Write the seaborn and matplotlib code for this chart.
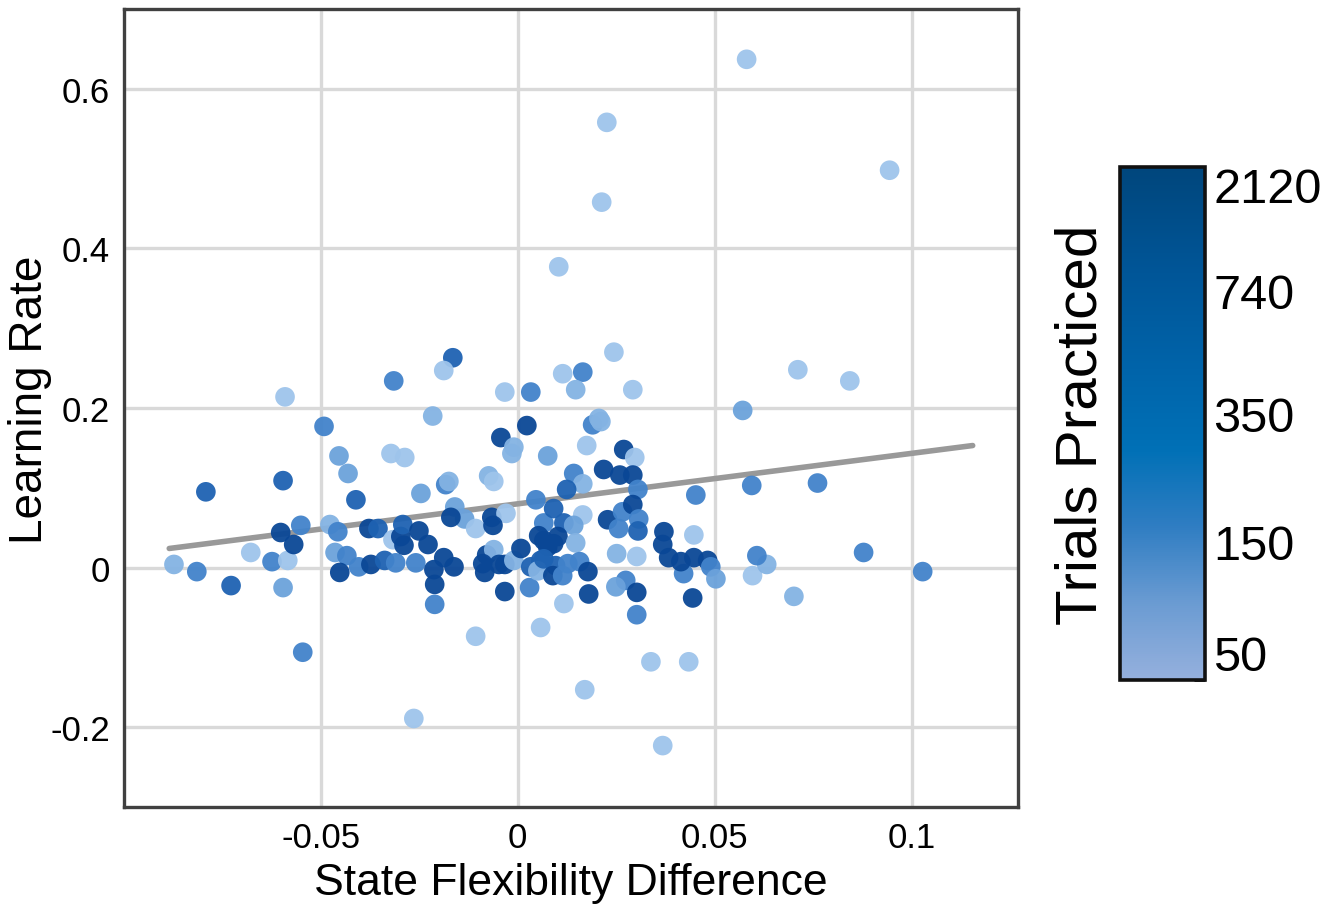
import numpy as np
import matplotlib
matplotlib.use("Agg")
import matplotlib.pyplot as plt
import seaborn as sns
from matplotlib.colors import LinearSegmentedColormap, Normalize
from matplotlib.cm import ScalarMappable

# ---------------- data ----------------
state_flex_diff = [
    0.0581, 0.0226, 0.0213, 0.0944, 0.0104, 0.0244, 0.0711, 0.0843, 0.0571, 0.0594,
    0.0761, 0.0878, 0.1028, 0.0701, 0.0596, 0.0632, 0.0607, 0.0452, 0.0447, 0.0447,
    0.0482, 0.0490, 0.0421, 0.0503, 0.0444, 0.0338, 0.0434, 0.0368, 0.0170, -0.0264,
    -0.0546, -0.0107, 0.0058, 0.0302, 0.0117, -0.0591, -0.0492, -0.0454, -0.0596, -0.0792,
    -0.0873, -0.0815, -0.0728, -0.0678, -0.0624, -0.0584, -0.0596, -0.0602, -0.0551, -0.0569,
    -0.0431, -0.0411, -0.0477, -0.0457, -0.0464, -0.0434, -0.0452, -0.0404, -0.0373, -0.0338,
    -0.0310, -0.0378, -0.0355, -0.0322, -0.0287, -0.0317, -0.0297, -0.0292, -0.0289, -0.0165,
    -0.0188, -0.0315, -0.0216, -0.0033, 0.0033, 0.0023, -0.0043, -0.0010, -0.0015, -0.0074,
    -0.0061, -0.0246, -0.0183, -0.0175, -0.0160, -0.0066, -0.0030, 0.0076, -0.0135, -0.0170,
    -0.0107, -0.0063, 0.0046, -0.0251, -0.0228, -0.0259, -0.0213, -0.0188, -0.0162, -0.0211,
    -0.0211, -0.0079, -0.0061, -0.0089, -0.0084, -0.0048, -0.0033, -0.0010, 0.0008, -0.0033,
    0.0033, 0.0030, 0.0066, 0.0066, 0.0076, 0.0058, 0.0051, 0.0190, 0.0211, 0.0175,
    0.0269, 0.0297, 0.0218, 0.0259, 0.0292, 0.0142, 0.0165, 0.0124, 0.0305, 0.0091,
    0.0165, 0.0228, 0.0266, 0.0292, 0.0307, 0.0256, 0.0305, 0.0117, 0.0142, 0.0102,
    0.0091, 0.0147, 0.0066, 0.0096, 0.0089, 0.0114, 0.0127, 0.0157, 0.0178, 0.0251,
    0.0302, 0.0371, 0.0368, 0.0383, 0.0414, 0.0274, 0.0249, 0.0302, 0.0180, 0.0114,
    0.0165, 0.0147, 0.0292, 0.0206, 0.0053,
]
learning_rate = [
    0.637, 0.558, 0.458, 0.498, 0.377, 0.270, 0.248, 0.234, 0.197, 0.103,
    0.106, 0.019, -0.005, -0.036, -0.010, 0.004, 0.015, 0.091, 0.041, 0.0125,
    0.009, 0.001, -0.0075, -0.014, -0.038, -0.118, -0.118, -0.223, -0.153, -0.189,
    -0.106, -0.086, -0.075, -0.059, -0.045, 0.214, 0.177, 0.140, 0.109, 0.095,
    0.004, -0.005, -0.0225, 0.019, 0.0075, 0.009, -0.025, 0.044, 0.053, 0.029,
    0.118, 0.085, 0.054, 0.045, 0.019, 0.015, -0.006, 0.001, 0.004, 0.009,
    0.006, 0.049, 0.049, 0.143, 0.138, 0.035, 0.039, 0.054, 0.028, 0.263,
    0.247, 0.234, 0.190, 0.220, 0.220, 0.178, 0.163, 0.151, 0.143, 0.115,
    0.108, 0.093, 0.104, 0.108, 0.076, 0.063, 0.068, 0.140, 0.061, 0.063,
    0.049, 0.053, 0.085, 0.046, 0.029, 0.006, -0.0025, 0.0125, 0.001, -0.021,
    -0.046, 0.016, 0.0225, 0.005, -0.006, 0.004, 0.004, 0.009, 0.024, -0.030,
    0.001, -0.025, 0.056, 0.034, 0.026, 0.009, -0.004, 0.179, 0.183, 0.153,
    0.148, 0.138, 0.123, 0.116, 0.116, 0.118, 0.105, 0.098, 0.098, 0.074,
    0.066, 0.060, 0.070, 0.079, 0.061, 0.049, 0.046, 0.056, 0.053, 0.039,
    0.030, 0.031, 0.011, 0.0025, -0.010, -0.010, 0.005, 0.0075, -0.005, 0.0175,
    0.014, 0.045, 0.029, 0.0125, 0.0075, -0.016, -0.024, -0.031, -0.033, 0.243,
    0.245, 0.223, 0.223, 0.187, 0.040,
]
trials_practiced = [
    55, 55, 55, 55, 55, 55, 55, 55, 110, 180,
    180, 180, 180, 80, 55, 80, 180, 180, 55, 1400,
    1400, 180, 180, 110, 1400, 55, 55, 55, 55, 55,
    180, 55, 55, 180, 55, 55, 180, 110, 450, 450,
    80, 180, 450, 55, 180, 55, 110, 1400, 180, 1400,
    110, 450, 80, 180, 110, 180, 1400, 180, 1400, 450,
    180, 1400, 450, 55, 55, 55, 1400, 450, 1400, 450,
    55, 180, 80, 55, 180, 1400, 1400, 80, 80, 80,
    55, 110, 180, 80, 110, 1400, 55, 110, 110, 1400,
    55, 1400, 180, 1400, 1400, 180, 1400, 1400, 1400, 1400,
    180, 1400, 80, 1400, 1400, 1400, 1400, 80, 1400, 1400,
    450, 180, 180, 1400, 1400, 450, 80, 180, 80, 55,
    1400, 55, 1400, 1400, 1400, 180, 80, 450, 180, 450,
    55, 1400, 180, 1400, 180, 180, 450, 450, 110, 1400,
    1400, 80, 450, 450, 1400, 180, 180, 180, 1400, 80,
    55, 1400, 1400, 1400, 1400, 180, 110, 1400, 1400, 55,
    180, 80, 55, 80, 1400,
]

# fitted trend line (end points)
fit_x = [-0.0885, 0.1155]
fit_y = [0.024, 0.153]

x_ticks = [-0.05, 0, 0.05, 0.1]
x_tick_labels = ["-0.05", "0", "0.05", "0.1"]
y_ticks = [-0.2, 0, 0.2, 0.4, 0.6]
y_tick_labels = ["-0.2", "0", "0.2", "0.4", "0.6"]

cbar_tick_values = [50, 150, 350, 740, 2120]
cbar_tick_fracs = [0.0, 0.27, 0.52, 0.76, 1.0]

# ---------------- style ----------------
sns.set_style("white")
plt.rcParams['font.family'] = ['Liberation Sans', 'DejaVu Sans']
plt.rcParams['text.color'] = 'black'
plt.rcParams['axes.labelcolor'] = 'black'

point_cmap = LinearSegmentedColormap.from_list(
    "pts", [(0.0, "#a3c8ec"), (0.12, "#82b2e3"), (0.2, "#68a0da"),
            (0.32, "#4283cb"), (0.6, "#1e62b2"), (0.9, "#0a4797"), (1.0, "#083f88")])
bar_cmap = LinearSegmentedColormap.from_list(
    "bar", [(0.0, "#95b0dd"), (0.15, "#6a9bd2"), (0.3, "#2f7dc2"), (0.45, "#0070b6"),
            (0.6, "#0064aa"), (0.8, "#005597"), (1.0, "#00467c")])

# map trials to colour position (log-interpolated like the colour bar)
color_pos = np.interp(np.log(trials_practiced), np.log(cbar_tick_values), cbar_tick_fracs)

fig = plt.figure(figsize=(13.37, 9.12), dpi=100)
ax = fig.add_axes([0.0927, 0.114, 0.6687, 0.875])

sns.lineplot(x=fit_x, y=fit_y, ax=ax, color="#999999", lw=4.0, zorder=1)
sns.scatterplot(x=state_flex_diff, y=learning_rate, hue=color_pos, hue_norm=(0, 1),
                palette=point_cmap, legend=False, s=200, linewidth=0, alpha=0.95,
                ax=ax, zorder=3)

ax.set_xlim(-0.1, 0.127)
ax.set_ylim(-0.3, 0.7)
ax.set_xticks(x_ticks)
ax.set_xticklabels(x_tick_labels)
ax.set_yticks(y_ticks)
ax.set_yticklabels(y_tick_labels)
ax.grid(True, color="#d9d9d9", lw=2.4, zorder=0)
ax.set_axisbelow(True)
for sp in ax.spines.values():
    sp.set_color("#404040")
    sp.set_linewidth(2.4)
    sp.set_visible(True)
ax.tick_params(direction="in", length=8, width=2.4, color="#404040",
               labelsize=25, pad=10, labelcolor="black")
ax.set_xlabel("State Flexibility Difference", fontsize=32, labelpad=6)
ax.set_ylabel("Learning Rate", fontsize=33)
ax.yaxis.set_label_coords(-0.08, 0.511)

# colour bar
cax = fig.add_axes([0.8377, 0.2533, 0.0636, 0.5625])
cb = fig.colorbar(ScalarMappable(norm=Normalize(0, 1), cmap=bar_cmap), cax=cax)
cb.set_ticks(cbar_tick_fracs)
cb.set_ticklabels([str(v) for v in cbar_tick_values])
cb.outline.set_linewidth(2.6)
cb.outline.set_edgecolor("#111111")
cax.tick_params(direction="in", length=8, width=2, color="#111111",
                labelsize=35, pad=6, labelcolor="black")
labs = cax.get_yticklabels()
labs[0].set_va("bottom")
labs[-1].set_va("top")
cax.yaxis.set_label_position("left")
cb.set_label("Trials Practiced", fontsize=42, labelpad=8)

fig.savefig("out.png", dpi=100)
